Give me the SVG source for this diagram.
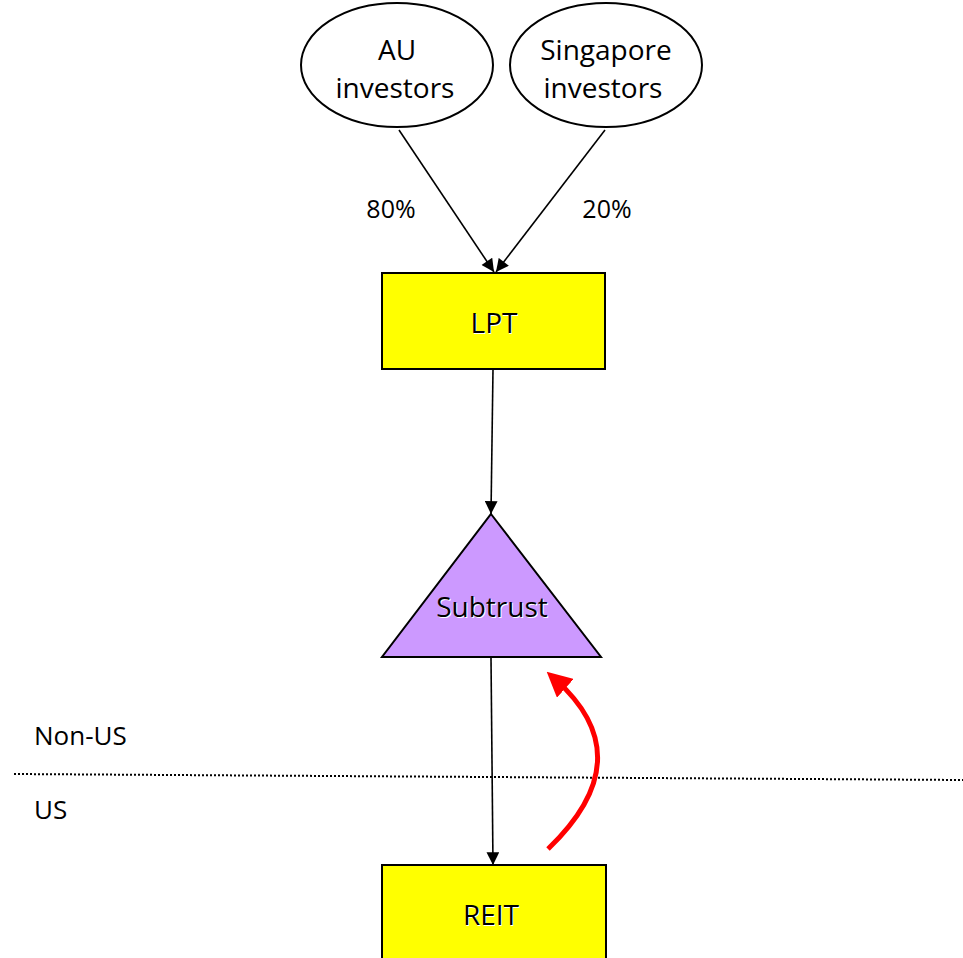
<svg xmlns="http://www.w3.org/2000/svg" width="963" height="958" viewBox="0 0 963 958">
  <style>
    .lbl { font-family: "Open Sans", "Liberation Sans", sans-serif; font-size: 28px; fill: #000; text-anchor: middle; }
    .side { font-family: "Open Sans", "Liberation Sans", sans-serif; font-size: 26px; fill: #000; }
    .pct { font-family: "Open Sans", "Liberation Sans", sans-serif; font-size: 25px; fill: #000; text-anchor: middle; }
    .shadow { fill: #fff; }
    .oval { fill: #fff; stroke: #000; stroke-width: 2; }
    .box { fill: #ffff00; stroke: #000; stroke-width: 2; }
    .tri { fill: #cc99ff; stroke: #000; stroke-width: 2; }
    .link { stroke: #000; stroke-width: 1.6; fill: none; marker-end: url(#head); }
    .flow { stroke: #ff0000; stroke-width: 5; fill: none; marker-end: url(#redhead); }
  </style>
  <defs>
    <marker id="head" viewBox="0 0 10 10" refX="10" refY="5" markerWidth="9" markerHeight="8" markerUnits="strokeWidth" orient="auto">
      <path d="M0,0 L10,5 L0,10 Z" fill="#000"/>
    </marker>
    <marker id="redhead" viewBox="0 0 10 10" refX="5" refY="5" markerWidth="5" markerHeight="5" markerUnits="strokeWidth" orient="auto">
      <path d="M0,0 L10,5 L0,10 Z" fill="#ff0000"/>
    </marker>
  </defs>

  <rect width="963" height="958" fill="#fff"/>

  <!-- jurisdiction divider -->
  <line x1="14" y1="774" x2="963" y2="780" stroke="#000" stroke-width="2" stroke-dasharray="2,2"/>
  <text class="side" x="34" y="745">Non-US</text>
  <text class="side" x="34" y="819">US</text>

  <g id="connectors">
    <line class="link" x1="399" y1="130" x2="494" y2="272"/>
    <line class="link" x1="605" y1="130" x2="496" y2="272"/>
    <line class="link" x1="493" y1="369" x2="491" y2="514"/>
    <line class="link" x1="491" y1="658" x2="493" y2="865"/>
    <path class="flow" d="M548,849 Q643,758 556,680"/>
    <text class="pct" x="391" y="218">80%</text>
    <text class="pct" x="607" y="218">20%</text>
  </g>

  <g id="au-investors">
    <ellipse class="oval" cx="397" cy="65" rx="96" ry="62"/>
    <text class="lbl" x="397" y="60">AU</text>
    <text class="lbl" x="395" y="98">investors</text>
  </g>

  <g id="singapore-investors">
    <ellipse class="oval" cx="606" cy="65" rx="96" ry="62"/>
    <text class="lbl" x="606" y="60">Singapore</text>
    <text class="lbl" x="603" y="98">investors</text>
  </g>

  <g id="lpt">
    <rect class="box" x="382" y="273" width="223" height="96"/>
    <text class="lbl shadow" x="495" y="334">LPT</text>
    <text class="lbl" x="494" y="333">LPT</text>
  </g>

  <g id="subtrust">
    <polygon class="tri" points="491,514 601,657 382,657"/>
    <text class="lbl shadow" x="493" y="618">Subtrust</text>
    <text class="lbl" x="492" y="617">Subtrust</text>
  </g>

  <g id="reit">
    <rect class="box" x="382" y="865" width="224" height="100"/>
    <text class="lbl shadow" x="492" y="926">REIT</text>
    <text class="lbl" x="491" y="925">REIT</text>
  </g>
</svg>
